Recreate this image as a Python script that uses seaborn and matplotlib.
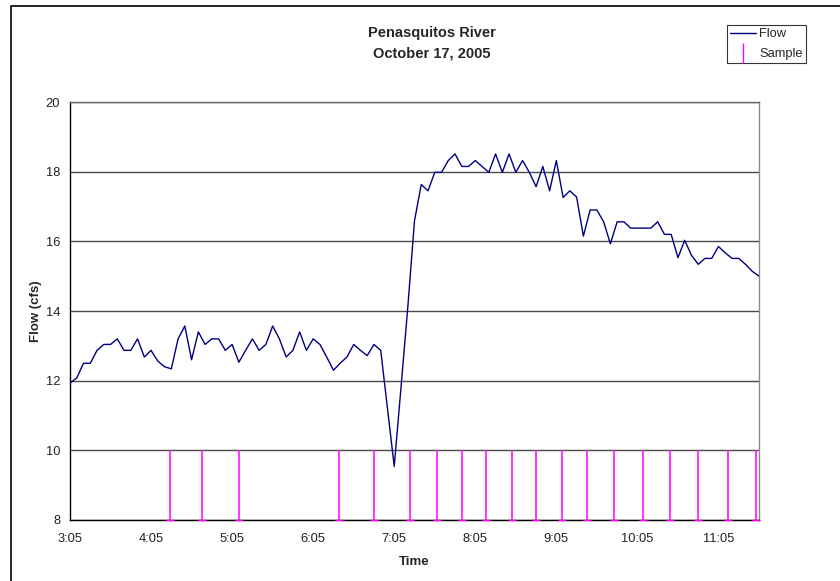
import numpy as np
import pandas as pd
import matplotlib
matplotlib.use("Agg")
import matplotlib.pyplot as plt
import matplotlib.lines as mlines
import seaborn as sns

# flow readings, every 5 minutes starting at 3:05
start_time = "3:05"
step_min = 5
flow_cfs = [
    11.93, 12.08, 12.5, 12.5, 12.87, 13.04, 13.04, 13.2, 12.87, 12.87,
    13.2, 12.68, 12.87, 12.56, 12.4, 12.34, 13.2, 13.57, 12.6, 13.4,
    13.04, 13.2, 13.2, 12.87, 13.04, 12.53, 12.87, 13.2, 12.87, 13.04,
    13.57, 13.2, 12.68, 12.87, 13.4, 12.87, 13.2, 13.04, 12.68, 12.3,
    12.5, 12.68, 13.04, 12.87, 12.72, 13.04, 12.87, 11.2, 9.54, 11.8,
    14.09, 16.59, 17.63, 17.45, 17.98, 17.98, 18.32, 18.51, 18.15, 18.15,
    18.32, 18.15, 17.98, 18.51, 17.98, 18.51, 17.98, 18.32, 17.98, 17.57,
    18.15, 17.45, 18.32, 17.26, 17.45, 17.27, 16.15, 16.9, 16.9, 16.56,
    15.93, 16.56, 16.56, 16.38, 16.38, 16.38, 16.38, 16.56, 16.2, 16.2,
    15.53, 16.03, 15.6, 15.34, 15.51, 15.51, 15.85, 15.67, 15.51, 15.51,
    15.34, 15.14, 15.0,
]

# sample collection times
sample_times = [
    "4:19", "4:43", "5:10", "6:24", "6:50", "7:17", "7:37", "7:55", "8:13",
    "8:32", "8:50", "9:09", "9:28", "9:48", "10:09", "10:29", "10:50",
    "11:12", "11:33",
]
sample_low, sample_high = 8, 10

tick_labels = ["3:05", "4:05", "5:05", "6:05", "7:05", "8:05", "9:05", "10:05", "11:05"]


def to_min(t):
    h, m = t.split(":")
    return int(h) * 60 + int(m)


t0 = to_min(start_time)
df = pd.DataFrame({
    "minutes": np.arange(len(flow_cfs)) * step_min,
    "flow": flow_cfs,
})
sample_x = [to_min(t) - t0 for t in sample_times]
tick_x = [to_min(t) - t0 for t in tick_labels]

sns.set_style("white")
plt.rcParams["font.family"] = ["Liberation Sans", "DejaVu Sans"]

W, H = 840, 581
fig = plt.figure(figsize=(W / 100, H / 100), dpi=100)
ax = fig.add_axes([70 / W, (H - 520) / H, 689 / W, 418 / H])

# chart border (only top/left fall inside the picture)
fig.add_artist(mlines.Line2D([11 / W, 11 / W, 1.0], [0, 1 - 6 / H, 1 - 6 / H],
                             transform=fig.transFigure, color="black", linewidth=1.2))

ax.yaxis.grid(True, color="#4a4a4a", linewidth=1)
ax.set_axisbelow(True)

ax.vlines(sample_x, sample_low, sample_high, color="#ff00ff", linewidth=1.1, zorder=3)
ax.plot(sample_x, [sample_low] * len(sample_x), linestyle="none", marker="_",
        markersize=6, color="#ff00ff", zorder=3, clip_on=False)

sns.lineplot(data=df, x="minutes", y="flow", color="#000080", linewidth=1.0,
             ax=ax, legend=False, zorder=4)

ax.set_xlim(0, df["minutes"].iloc[-1])
ax.set_ylim(8, 20)
ax.set_xticks(tick_x)
ax.set_xticklabels(tick_labels)
ax.set_yticks(range(8, 21, 2))
ax.tick_params(axis="both", direction="out", length=4, width=0.8, colors="black",
               labelsize=9.3, labelcolor="#222222", pad=3)
ax.tick_params(axis="x", pad=5)

for s in ["left", "bottom"]:
    ax.spines[s].set_color("black")
    ax.spines[s].set_linewidth(1)
ax.spines["top"].set_color("#6a6a6a")
ax.spines["right"].set_color("#8a8a8a")
ax.spines["top"].set_linewidth(1)
ax.spines["right"].set_linewidth(1)

ax.set_xlabel("Time", fontsize=9.5, fontweight="bold", labelpad=8.5)
ax.set_ylabel("Flow (cfs)", fontsize=9.5, fontweight="bold", labelpad=3)

fig.text(432 / W, 1 - 33 / H, "Penasquitos River", ha="center", va="center",
         fontsize=10.5, fontweight="bold")
fig.text(432 / W, 1 - 53 / H, "October 17, 2005", ha="center", va="center",
         fontsize=10.5, fontweight="bold")

flow_h = mlines.Line2D([], [], color="#000080", linewidth=1, label="Flow")
samp_h = mlines.Line2D([], [], color="#ff00ff", marker="|", linestyle="none",
                       markersize=14, label="Sample")
leg = fig.legend(handles=[flow_h, samp_h], loc="upper left",
                 bbox_to_anchor=(727 / W, 1 - 25 / H), fontsize=9.3, frameon=True,
                 fancybox=False, edgecolor="black", handlelength=2.0,
                 handletextpad=0.25, borderpad=0.25, labelspacing=0.6,
                 borderaxespad=0)
leg.get_frame().set_linewidth(0.8)

fig.savefig("out.png", dpi=100, facecolor="white")
